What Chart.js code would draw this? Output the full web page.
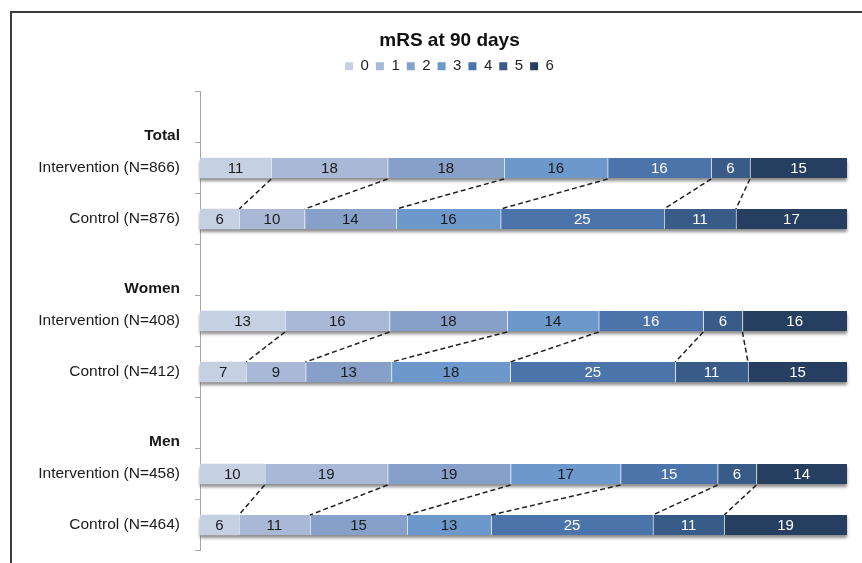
<!DOCTYPE html>
<html><head><meta charset="utf-8">
<script src="https://cdn.jsdelivr.net/npm/chart.js@4.4.1/dist/chart.umd.min.js"></script>
<style>html,body{margin:0;padding:0;background:#fff;overflow:hidden}</style>
</head><body>
<canvas id="c" width="862" height="563"></canvas>
<script>
// ---- data ----
const groups = ["Total", "Women", "Men"];
const barLabels = ["Intervention (N=866)", "Control (N=876)",
                   "Intervention (N=408)", "Control (N=412)",
                   "Intervention (N=458)", "Control (N=464)"];
const scores = ["0", "1", "2", "3", "4", "5", "6"];
const mrs0 = [11, 6, 13, 7, 10, 6];
const mrs1 = [18, 10, 16, 9, 19, 11];
const mrs2 = [18, 14, 18, 13, 19, 15];
const mrs3 = [16, 16, 14, 18, 17, 13];
const mrs4 = [16, 25, 16, 25, 15, 25];
const mrs5 = [6, 11, 6, 11, 6, 11];
const mrs6 = [15, 17, 16, 15, 14, 19];

const colors = ["#c6d0e3", "#a8b8d6", "#86a0c9", "#6d98cb", "#4a74aa", "#385b87", "#263f60"];
const textColors = ["#1a1a1a", "#1a1a1a", "#1a1a1a", "#1a1a1a", "#ffffff", "#ffffff", "#ffffff"];
const FF = '"Liberation Sans", Arial, sans-serif';

// ---- build category table ----
const series = [mrs0, mrs1, mrs2, mrs3, mrs4, mrs5, mrs6];
const categories = [];
const rowMap = [];
groups.forEach((g, gi) => {
  categories.push(["", "", g]); rowMap.push(-1);
  categories.push(barLabels[gi * 2]); rowMap.push(gi * 2);
  categories.push(barLabels[gi * 2 + 1]); rowMap.push(gi * 2 + 1);
});
const rowTotals = barLabels.map((_, r) => series.reduce((s, arr) => s + arr[r], 0));
const datasets = series.map((arr, k) => ({
  label: scores[k],
  data: rowMap.map(r => r < 0 ? null : arr[r] / rowTotals[r] * 100),
  raw: rowMap.map(r => r < 0 ? null : arr[r]),
  xAxisID: "x",
  yAxisID: "y",
  backgroundColor: colors[k],
  borderColor: "#ffffff",
  borderWidth: {left: k ? 1 : 0, right: 0, top: 0, bottom: 0},
  borderSkipped: false,
  barThickness: 20
}));

// ---- plugins ----
const framePlugin = {
  id: "frame",
  beforeDraw(chart) {
    const ctx = chart.ctx;
    ctx.save(); ctx.fillStyle = "#fff"; ctx.fillRect(0, 0, chart.width, chart.height); ctx.restore();
  },
  afterDraw(chart) {
    const ctx = chart.ctx;
    ctx.save();
    ctx.strokeStyle = "#3a3a3a"; ctx.lineWidth = 2;
    ctx.beginPath();
    ctx.moveTo(11, chart.height); ctx.lineTo(11, 12); ctx.lineTo(chart.width, 12);
    ctx.stroke();
    ctx.restore();
  }
};
const shadowPlugin = {
  id: "barShadow",
  beforeDatasetsDraw(chart) {
    const ctx = chart.ctx;
    const first = chart.getDatasetMeta(0), last = chart.getDatasetMeta(datasets.length - 1);
    ctx.save();
    ctx.shadowColor = "rgba(0,0,0,0.45)"; ctx.shadowBlur = 3; ctx.shadowOffsetY = 3;
    ctx.fillStyle = "#ffffff";
    rowMap.forEach((r, i) => {
      if (r < 0) return;
      const a = first.data[i], b = last.data[i];
      ctx.fillRect(a.base, a.y - a.height / 2, b.x - a.base, a.height);
    });
    ctx.restore();
  }
};
const overlayPlugin = {
  id: "overlay",
  afterDatasetsDraw(chart) {
    const ctx = chart.ctx;
    ctx.save();
    // connectors
    ctx.strokeStyle = "#222"; ctx.lineWidth = 1.5; ctx.setLineDash([5, 3]);
    rowMap.forEach((r, i) => {
      if (r < 0 || r % 2 === 1) return;
      for (let k = 0; k < datasets.length - 1; k++) {
        const m = chart.getDatasetMeta(k);
        const top = m.data[i], bot = m.data[i + 1];
        ctx.beginPath();
        ctx.moveTo(top.x, top.y + top.height / 2 + 1);
        ctx.lineTo(bot.x, bot.y - bot.height / 2);
        ctx.stroke();
      }
    });
    ctx.setLineDash([]);
    // value labels
    ctx.font = "15px " + FF;
    ctx.textAlign = "center"; ctx.textBaseline = "middle";
    datasets.forEach((ds, k) => {
      const m = chart.getDatasetMeta(k);
      ctx.fillStyle = textColors[k];
      ds.raw.forEach((v, i) => {
        if (v === null) return;
        const el = m.data[i];
        ctx.fillText(String(v), (el.x + el.base) / 2, el.y + 1);
      });
    });
    ctx.restore();
  }
};

new Chart(document.getElementById("c"), {
  type: "bar",
  data: {labels: categories, datasets},
  plugins: [framePlugin, shadowPlugin, overlayPlugin],
  options: {
    indexAxis: "y",
    responsive: false,
    animation: false,
    layout: {padding: {top: 12, left: 37, right: 0, bottom: 12.5}},
    plugins: {
      tooltip: {enabled: false},
      title: {
        display: true, text: "mRS at 90 days", color: "#111",
        font: {family: FF, size: 19, weight: "bold"},
        padding: {top: 17, bottom: 0}
      },
      legend: {
        display: true, position: "top",
        labels: {
          boxWidth: 8, boxHeight: 8, padding: 7, color: "#222",
          font: {family: FF, size: 15},
          generateLabels: (chart) => chart.data.datasets.map((ds, i) => ({
            text: ds.label, fillStyle: ds.backgroundColor, strokeStyle: ds.backgroundColor,
            lineWidth: 0, hidden: false, datasetIndex: i, fontColor: "#222"
          }))
        }
      }
    },
    scales: {
      y: {
        stacked: true,
        grid: {display: true, drawOnChartArea: false, drawTicks: true, tickLength: 5, color: "#a6a6a6", offset: true},
        border: {display: true, color: "#a6a6a6", width: 1},
        ticks: {
          padding: 15, color: "#1a1a1a", autoSkip: false,
          font: (c) => ({family: FF, size: 15.5, weight: Array.isArray(categories[c.index]) ? "bold" : "normal"})
        },
        afterFit: (s) => { s.width = 163; s.paddingTop = 0; s.paddingBottom = 0; }
      },
      x: {
        type: "linear", position: "top", stacked: true, min: 0, max: 100, display: true,
        ticks: {display: false}, grid: {display: false, drawTicks: false}, border: {display: false},
        afterFit: (s) => { s.height = 7.7; }
      },
      yRight: {
        type: "linear", position: "right", display: true,
        ticks: {display: false}, grid: {display: false, drawTicks: false}, border: {display: false},
        afterFit: (s) => { s.width = 15; s.paddingTop = 0; s.paddingBottom = 0; }
      }
    }
  }
});
</script>
</body></html>
